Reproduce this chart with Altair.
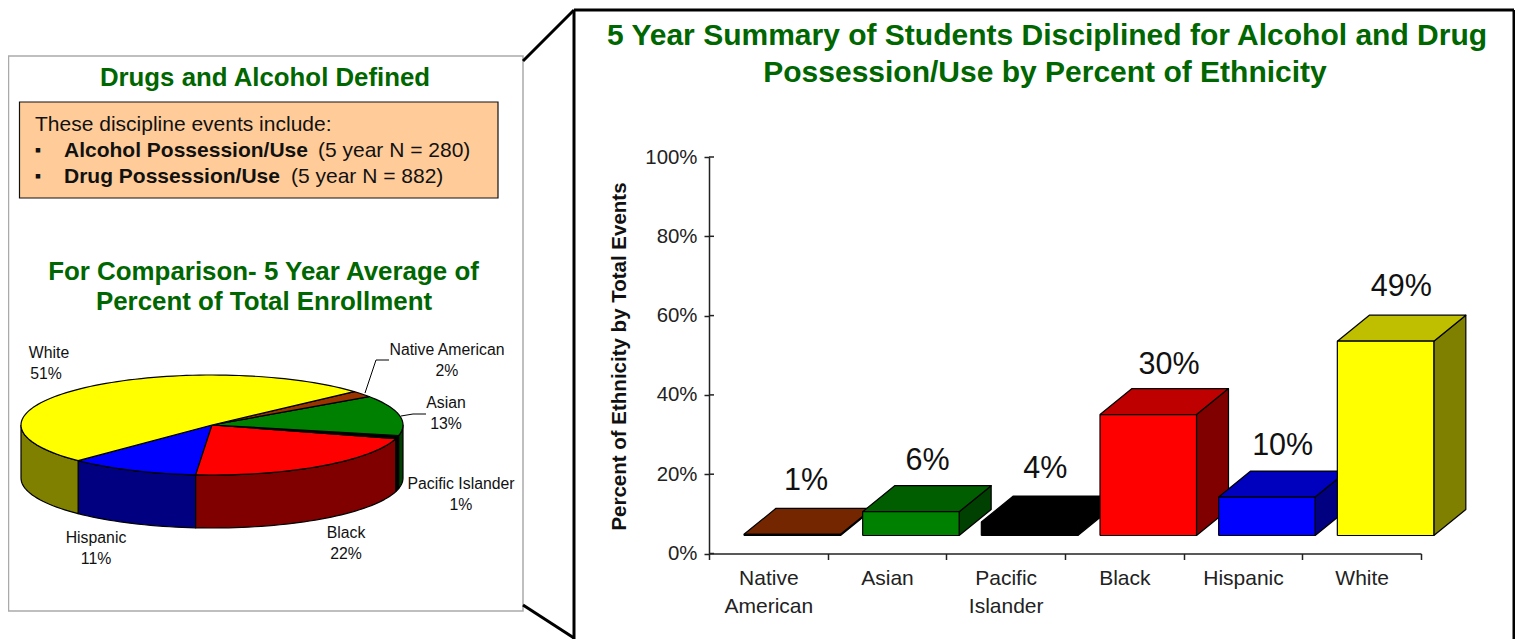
import numpy as np
import pandas as pd
import altair as alt

# ---- data ----
bar_cats = ["Native American", "Asian", "Pacific Islander", "Black", "Hispanic", "White"]
bar_labels = [1, 6, 4, 30, 10, 49]
bar_heights = [0.3, 6.0, 3.4, 30.5, 9.7, 49.0]
label_dx = [62, 65, 64, 69, 64, 64]
label_dy = [-27, -25, -27, -24, -25, -28]
bar_front = ["#993300", "#008000", "#000000", "#FF0000", "#0000FF", "#FFFF00"]
bar_top = ["#732600", "#005E00", "#000000", "#BF0000", "#0000BF", "#BFBF00"]
bar_side = ["#4C1900", "#004000", "#000000", "#800000", "#000080", "#808000"]

pie_cats = ["Hispanic", "Black", "Pacific Islander", "Asian", "Native American", "White"]
pie_shares = [11, 22, 1, 13, 2, 51]
pie_top = ["#0000FF", "#FF0000", "#000000", "#008000", "#993300", "#FFFF00"]
pie_wall = ["#000080", "#800000", "#000000", "#004000", "#4C1900", "#808000"]

W, H = 1507, 631
GREEN = "#006600"
FONT = "Liberation Sans"
one = pd.DataFrame({"a": [0]})
layers = []


def X(v):
    return alt.value(v - 8)


def Y(v):
    return alt.value(v - 8)


def text(s, x, y, size, bold=False, color="#111111", align="center", angle=0):
    layers.append(
        alt.Chart(one)
        .mark_text(font=FONT, fontSize=size, fontWeight="bold" if bold else "normal",
                   color=color, align=align, baseline="middle", angle=angle)
        .encode(x=X(x), y=Y(y), text=alt.value(s))
    )


def rule(x1, y1, x2, y2, color="black", width=1.0):
    layers.append(
        alt.Chart(one).mark_rule(color=color, strokeWidth=width)
        .encode(x=X(x1), y=Y(y1), x2=X(x2), y2=Y(y2))
    )


def box(x1, y1, x2, y2, fill, stroke, width):
    layers.append(
        alt.Chart(one).mark_rect(fill=fill, stroke=stroke, strokeWidth=width)
        .encode(x=X(x1), y=Y(y1), x2=X(x2), y2=Y(y2))
    )


page_x = alt.Scale(domain=[8, 8 + W], range=[0, W])
page_y = alt.Scale(domain=[8, 8 + H], range=[0, H])


def poly(xs, ys, fill, xscale, yscale, stroke="black", width=1.2):
    df = pd.DataFrame({"x": xs, "y": ys, "o": range(len(xs))})
    layers.append(
        alt.Chart(df)
        .mark_line(filled=True, fill=fill, stroke=stroke, strokeWidth=width, strokeJoin="round")
        .encode(x=alt.X("x:Q", scale=xscale, axis=None),
                y=alt.Y("y:Q", scale=yscale, axis=None),
                order=alt.Order("o:Q"))
    )


# ---- frames ----
box(8.5, 56, 523, 611, "white", "#AAAAAA", 1.5)
box(19.5, 102, 498, 198, "#FFCC99", "#111111", 1.2)
rule(523, 61, 574, 10, width=3)
rule(523, 605, 574, 638, width=3)
rule(574, 10, 574, 639, width=3)
rule(574, 10, 1514, 10, width=3)
rule(1514, 10, 1514, 639, width=3)

# ---- left panel text ----
text("Drugs and Alcohol Defined", 265, 78, 25.8, True, GREEN)
text("These discipline events include:", 35, 125, 21, align="left")
text("\u25AA", 38, 151, 18, align="center")
text("Alcohol Possession/Use", 64, 151, 21, True, align="left")
text("(5 year N = 280)", 318, 151, 21, align="left")
text("\u25AA", 38, 177, 18, align="center")
text("Drug Possession/Use", 64, 177, 21, True, align="left")
text("(5 year N = 882)", 291, 177, 21, align="left")
text("For Comparison- 5 Year Average of", 263.5, 272, 25.9, True, GREEN)
text("Percent of Total Enrollment", 264, 302, 25.9, True, GREEN)

# ---- 3D pie, slices computed from the shares ----
CX, CY, RX, RY, DEPTH, T0 = 212, 425, 191, 50, 53, 134.5


def arc(t1, t2):
    n = max(2, int(abs(t2 - t1) / 2) + 2)
    t = np.radians(np.linspace(t1, t2, n))
    return CX + RX * np.cos(t), CY + RY * np.sin(t)


spans = []
t = T0
for s in pie_shares:
    spans.append((t, t - s * 3.6))
    t -= s * 3.6

for (a, b), c in zip(spans, pie_wall):
    for k in (-360, 0, 360):
        hi, lo = min(a + k, 180), max(b + k, 0)
        if hi > lo:
            ax, ay = arc(hi, lo)
            xs = list(ax) + list(ax[::-1]) + [ax[0]]
            ys = list(ay) + list(ay[::-1] + DEPTH) + [ay[0]]
            poly(xs, ys, c, page_x, page_y)

for (a, b), c in zip(spans, pie_top):
    ax, ay = arc(a, b)
    xs = [CX] + list(ax) + [CX]
    ys = [CY] + list(ay) + [CY]
    poly(xs, ys, c, page_x, page_y)

rule(365, 393, 376, 360, width=1)
rule(376, 360, 389, 360, width=1)
rule(401, 416, 413, 414, width=1)
rule(413, 414, 426, 414, width=1)

for name, pct, x, y1 in [
    ("White", 51, 49, 353), ("Native American", 2, 447, 350), ("Asian", 13, 446, 403),
    ("Pacific Islander", 1, 461, 484), ("Black", 22, 346, 533), ("Hispanic", 11, 96, 538),
]:
    text(name, x, y1, 15.8)
    text(f"{pct}%", x - (3 if name == "White" else 0), y1 + 21, 15.8)

# ---- right panel title ----
text("5 Year Summary of Students Disciplined for Alcohol and Drug", 1047, 36, 30, True, GREEN)
text("Possession/Use by Percent of Ethnicity", 1045, 73, 30, True, GREEN)

# ---- right panel axes ----
ax_left, ax_right, ax_bottom, ax_top = 701, 1413, 545.5, 149
bx = alt.Scale(domain=[0, 6], range=[ax_left, ax_right])
by = alt.Scale(domain=[0, 100], range=[ax_bottom, ax_top])

axis_df = pd.DataFrame({"cat": bar_cats, "val": [0, 20, 40, 60, 80, 100]})
layers.append(
    alt.Chart(axis_df).mark_point(opacity=0).encode(
        x=alt.X("cat:N", sort=bar_cats,
                scale=alt.Scale(domain=bar_cats, range=[ax_left, ax_right], paddingInner=0, paddingOuter=0),
                axis=alt.Axis(title=None, orient="bottom", offset=ax_bottom - H, tickBand="extent", grid=False,
                              labelAngle=0, tickSize=6, tickColor="#222", domainColor="#222", domainWidth=1.5,
                              tickWidth=1.5, labelFont=FONT, labelFontSize=21, labelColor="#222", labelPadding=8,
                              labelLineHeight=28, labelLimit=200,
                              labelExpr="split(replace(datum.label,' ','|'),'|')")),
        y=alt.Y("val:Q", scale=by,
                axis=alt.Axis(title="Percent of Ethnicity by Total Events", orient="left", offset=-ax_left,
                              values=[0, 20, 40, 60, 80, 100], grid=False, tickSize=5, tickColor="#222",
                              domainColor="#222", domainWidth=1.5, tickWidth=1.5, labelFont=FONT,
                              labelFontSize=20.4, labelColor="#222", labelPadding=7,
                              labelExpr="datum.value + '%'", titleFont=FONT, titleFontSize=20.5,
                              titleFontWeight="bold", titleColor="#111", titlePadding=15,
                              titleY=348)),
    )
)
# inner half of the cross ticks on the value axis
layers.append(
    alt.Chart(axis_df).mark_rule(color="#222", strokeWidth=1.5).encode(
        y=alt.Y("val:Q", scale=by, axis=None), x=X(709), x2=X(714))
)

# ---- 3D bars ----
STEP = (ax_right - ax_left) / 6
PX = (ax_bottom - ax_top) / 100
inset, bar_w, dx, dy, floor = 35 / STEP, 96.5 / STEP, 32 / STEP, 26 / PX, 18 / PX

for i, v in enumerate(bar_heights):
    x0, x1 = i + inset, i + inset + bar_w
    y0, y1 = floor, floor + v
    poly([x1, x1 + dx, x1 + dx, x1, x1], [y0, y0 + dy, y1 + dy, y1, y0], bar_side[i], bx, by)
    poly([x0, x0 + dx, x1 + dx, x1, x0], [y1, y1 + dy, y1 + dy, y1, y1], bar_top[i], bx, by)
    poly([x0, x1, x1, x0, x0], [y0, y0, y1, y1, y0], bar_front[i], bx, by)

lab = pd.DataFrame({
    "x": [i + inset + s / STEP for i, s in enumerate(label_dx)],
    "y": [floor + v + dy - s / PX for v, s in zip(bar_heights, label_dy)],
    "t": [f"{v}%" for v in bar_labels],
})
layers.append(
    alt.Chart(lab).mark_text(font=FONT, fontSize=30.5, color="#111", baseline="middle")
    .encode(x=alt.X("x:Q", scale=bx, axis=None), y=alt.Y("y:Q", scale=by, axis=None), text="t:N")
)

chart = (
    alt.layer(*layers)
    .resolve_scale(x="independent", y="independent")
    .properties(width=W, height=H, padding=0, background="white",
                autosize=alt.AutoSizeParams(type="none"))
    .configure_view(stroke=None)
)
chart.save("out.html", embed_options={"renderer": "svg", "actions": False})
